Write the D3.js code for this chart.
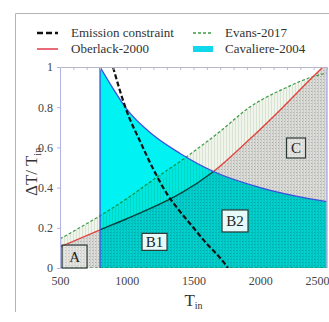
<!DOCTYPE html>
<html>
<head>
<meta charset="utf-8">
<script src="https://cdn.jsdelivr.net/npm/d3@7"></script>
<style>
body { margin: 0; background: #fff; }
svg { display: block; }
svg text { font-family: 'Liberation Serif', 'Times New Roman', Times, serif; }
</style>
</head>
<body>
<div id="chart"></div>
<script>
// data
const emissionT = [897, 950, 1000, 1100, 1200, 1300, 1400, 1500, 1600, 1700, 1758];
const emissionV = [1.0, 0.88, 0.78, 0.63, 0.49, 0.37, 0.28, 0.2, 0.12, 0.05, 0];

const oberlackT = [500, 800, 1000, 1300, 1400, 1650, 1920, 2170, 2370, 2470];
const oberlackV = [0.105, 0.19, 0.245, 0.335, 0.37, 0.48, 0.64, 0.80, 0.935, 1.0];

const evansT = [500, 800, 1000, 1200, 1420, 1700, 1920, 2170, 2410, 2500];
const evansV = [0.145, 0.26, 0.345, 0.44, 0.54, 0.68, 0.80, 0.89, 0.955, 0.97];

const cavaliereT = [800, 900, 1000, 1200, 1400, 1650, 2000, 2250, 2500];
const cavaliereV = [1.0, 0.89, 0.79, 0.66, 0.57, 0.48, 0.40, 0.36, 0.33];

const regionNames = ['A', 'B1', 'B2', 'C'];
const regionT = [609, 1208, 1811, 2268];
const regionV = [0.057, 0.13, 0.234, 0.597];

const xTicks = [500, 1000, 1500, 2000, 2500];
const yTicks = [0, 0.2, 0.4, 0.6, 0.8, 1];
const yTickLabels = ['0', '0.2', '0.4', '0.6', '0.8', '1'];

const legendNames = ['Emission constraint', 'Oberlack-2000', 'Evans-2017', 'Cavaliere-2004'];

const width = 329;
const height = 322;
const margin = {top: 67, left: 60, bottom: 54, right: 2};

const x = d3.scaleLinear().domain([500, 2500]).range([margin.left, width - margin.right]);
const y = d3.scaleLinear().domain([0, 1]).range([height - margin.bottom, margin.top]);

const pts = (ts, vs) => ts.map((t, i) => [t, vs[i]]);
const emission = pts(emissionT, emissionV);
const oberlack = pts(oberlackT, oberlackV);
const evans = pts(evansT, evansV);
const cavaliere = pts(cavaliereT, cavaliereV);

const line = d3.line().x(d => x(d[0])).y(d => y(d[1])).curve(d3.curveMonotoneX);
const linePlain = d3.line().x(d => x(d[0])).y(d => y(d[1]));

const svg = d3.select('#chart').append('svg')
    .attr('width', width).attr('height', height);

// outer frame
svg.append('path')
    .attr('d', `M15.5,312 V13.5 H${width}`)
    .attr('fill', 'none').attr('stroke', '#b4b4b4').attr('stroke-width', 1);

const defs = svg.append('defs');
defs.append('clipPath').attr('id', 'plotclip').append('rect')
    .attr('x', x(500)).attr('y', y(1)).attr('width', x(2500) - x(500)).attr('height', y(0) - y(1));

const dots = defs.append('pattern').attr('id', 'graydots').attr('patternUnits', 'userSpaceOnUse')
    .attr('width', 3).attr('height', 3);
dots.append('rect').attr('width', 3).attr('height', 3).attr('fill', '#dcdcd8');
dots.append('rect').attr('x', 0).attr('width', 1).attr('height', 3).attr('fill', '#cacac6');
dots.append('rect').attr('x', 2).attr('y', 1).attr('width', 1).attr('height', 1).attr('fill', '#b0b0ac');

const hatch = defs.append('pattern').attr('id', 'greenhatch').attr('patternUnits', 'userSpaceOnUse')
    .attr('width', 3).attr('height', 3);
hatch.append('rect').attr('width', 3).attr('height', 3).attr('fill', '#f0f4ec');
hatch.append('rect').attr('x', 1).attr('width', 1).attr('height', 3).attr('fill', '#d6e4d0');

const plot = svg.append('g').attr('clip-path', 'url(#plotclip)');

// between Oberlack and Evans: light green hatching
const redBack = oberlack.slice().reverse();
plot.append('path')
    .attr('d', line(evans) + line(redBack).replace('M', 'L') + 'Z')
    .attr('fill', 'url(#greenhatch)');

// below Oberlack: grey dots
plot.append('path')
    .attr('d', line(oberlack) + linePlain([[2500, 1], [2500, 0], [500, 0]]).replace('M', 'L') + 'Z')
    .attr('fill', 'url(#graydots)');

// lines that the cyan area tints
plot.append('path').attr('d', line(evans))
    .attr('fill', 'none').attr('stroke', '#3e9c46').attr('stroke-width', 1.2)
    .attr('stroke-dasharray', '3,2');
plot.append('path').attr('d', line(oberlack))
    .attr('fill', 'none').attr('stroke', '#e2463f').attr('stroke-width', 1.4);

// Cavaliere area
plot.append('path')
    .attr('d', line(cavaliere) + linePlain([[2500, 0], [800, 0]]).replace('M', 'L') + 'Z')
    .attr('fill', '#00f2f2')
    .style('mix-blend-mode', 'multiply');
plot.append('path')
    .attr('d', linePlain([[800, 0], [800, 1]]) + line(cavaliere).replace('M', 'L'))
    .attr('fill', 'none').attr('stroke', '#3c50dc').attr('stroke-width', 1.3);

// bottom dashed line
plot.append('path').attr('d', linePlain([[500, 0], [2500, 0]]))
    .attr('fill', 'none').attr('stroke', '#2f7a3c').attr('stroke-width', 1.2)
    .attr('stroke-dasharray', '3,2');

// emission constraint
plot.append('path').attr('d', line(emission))
    .attr('fill', 'none').attr('stroke', '#111').attr('stroke-width', 2.2)
    .attr('stroke-dasharray', '5,2.5');

// region boxes
const boxW = [25, 25, 26, 19];
const boxH = [23, 17, 22, 20];
const boxFill = ['rgba(255,255,255,0.25)', 'rgba(255,255,255,0.9)', 'rgba(255,255,255,0.9)', 'rgba(255,255,255,0.3)'];
regionNames.forEach((name, i) => {
    const cx = x(regionT[i]), cy = y(regionV[i]);
    svg.append('rect')
        .attr('x', cx - boxW[i] / 2).attr('y', cy - boxH[i] / 2)
        .attr('width', boxW[i]).attr('height', boxH[i])
        .attr('fill', boxFill[i]).attr('stroke', '#2a3a36').attr('stroke-width', 1.2);
    svg.append('text')
        .attr('x', cx).attr('y', cy + 5)
        .attr('text-anchor', 'middle').attr('font-size', 15).attr('fill', '#222')
        .text(name);
});

// axes
const axisColor = '#b3b3e3';
const yAxis = g => g
    .attr('transform', `translate(${margin.left},0)`)
    .call(d3.axisLeft(y).tickValues(yTicks).tickFormat((d, i) => yTickLabels[i]).tickSize(3).tickPadding(4))
    .attr('font-size', 12)
    .call(g => g.selectAll('.domain, line').attr('stroke', axisColor))
    .call(g => g.selectAll('text').attr('fill', '#444'));
const xAxis = g => g
    .attr('transform', `translate(0,${height - margin.bottom})`)
    .call(d3.axisBottom(x).tickValues(xTicks).tickFormat(d3.format('d')).tickSize(0).tickPadding(8))
    .attr('font-size', 12)
    .call(g => g.select('.domain').remove())
    .call(g => g.selectAll('text').attr('fill', '#444'))
    .call(g => g.selectAll('text').filter(d => d === 2500).attr('text-anchor', 'end').attr('dx', width - x(2500)));
const topAxis = g => g
    .attr('transform', `translate(0,${margin.top})`)
    .call(d3.axisTop(x).ticks(20).tickSize(-3).tickFormat(''))
    .call(g => g.selectAll('.domain, line').attr('stroke', '#b8b8cc'));

svg.append('g').call(yAxis);
svg.append('g').call(xAxis);
svg.append('g').call(topAxis);
svg.append('line')
    .attr('x1', x(2500)).attr('x2', x(2500)).attr('y1', y(1)).attr('y2', y(0))
    .attr('stroke', axisColor).attr('stroke-width', 1.5);

// axis titles
const yTitle = svg.append('text')
    .attr('transform', `translate(37,196) rotate(-90)`)
    .attr('font-size', 17).attr('fill', '#333');
yTitle.append('tspan').text('ΔT/ T');
yTitle.append('tspan').attr('font-size', 10).attr('dy', 4).text('in');

const xTitle = svg.append('text')
    .attr('x', x(1500)).attr('y', 306).attr('text-anchor', 'middle')
    .attr('font-size', 17).attr('fill', '#333');
xTitle.append('tspan').text('T');
xTitle.append('tspan').attr('font-size', 10).attr('dy', 3).text('in');

// legend
const lg = svg.append('g').attr('font-size', 13).attr('fill', '#333');
const legX = [37, 37, 193, 193];
const legY = [33, 49, 33, 49];
const legTextX = [71, 71, 225, 225];
legendNames.forEach((name, i) => {
    if (i === 0) {
        lg.append('line').attr('x1', legX[i]).attr('x2', legX[i] + 21).attr('y1', legY[i]).attr('y2', legY[i])
            .attr('stroke', '#111').attr('stroke-width', 2.5).attr('stroke-dasharray', '6,3');
    } else if (i === 1) {
        lg.append('line').attr('x1', legX[i]).attr('x2', legX[i] + 21).attr('y1', legY[i]).attr('y2', legY[i])
            .attr('stroke', '#ea6a78').attr('stroke-width', 2);
    } else if (i === 2) {
        lg.append('line').attr('x1', legX[i]).attr('x2', legX[i] + 20).attr('y1', legY[i]).attr('y2', legY[i])
            .attr('stroke', '#3e9c46').attr('stroke-width', 1.4).attr('stroke-dasharray', '3,2');
    } else {
        lg.append('rect').attr('x', legX[i]).attr('y', legY[i] - 3).attr('width', 20).attr('height', 6)
            .attr('fill', '#10d8ea');
    }
    lg.append('text').attr('x', legTextX[i]).attr('y', legY[i] + 4).text(name);
});
</script>
</body>
</html>
